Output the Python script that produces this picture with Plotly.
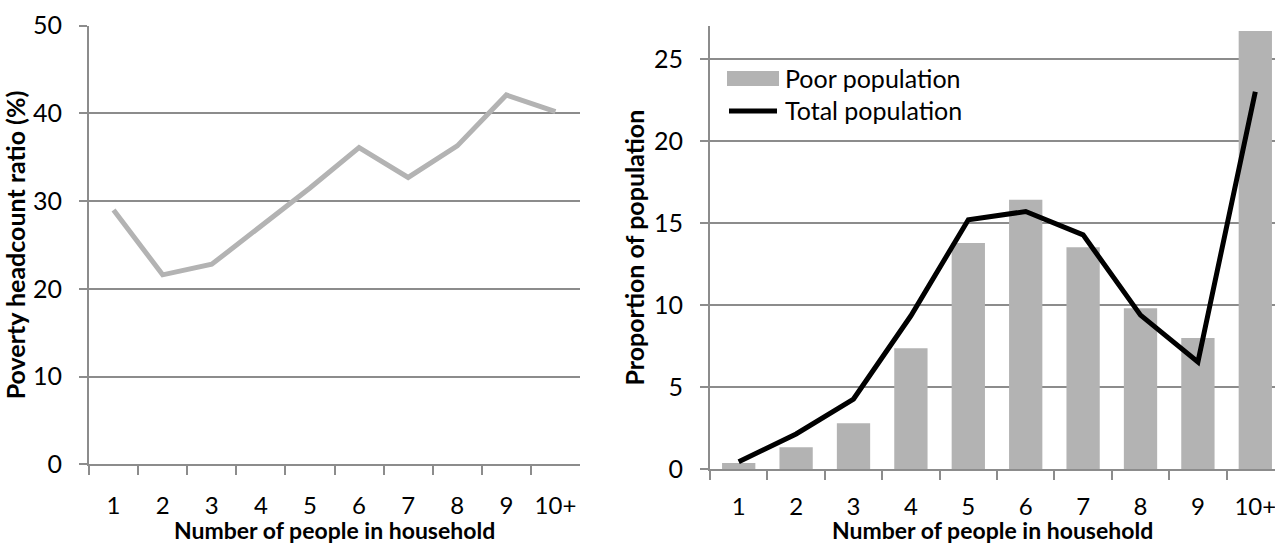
import plotly.graph_objects as go

# Household size categories
household_sizes = ["1", "2", "3", "4", "5", "6", "7", "8", "9", "10+"]

# Poverty headcount ratio (%) by household size
headcount_ratio = [29.0, 21.6, 22.8, 27.2, 31.5, 36.1, 32.7, 36.3, 42.1, 40.2]

# Share of population (%) by household size
poor_population = [0.38, 1.35, 2.8, 7.38, 13.78, 16.41, 13.52, 9.81, 8.0, 26.7]
total_population = [0.46, 2.15, 4.28, 9.35, 15.2, 15.7, 14.28, 9.39, 6.54, 23.0]

W, H = 1275, 544
FONT = "Lato"
GRID = "#8c8c8c"
LIGHT = "#b3b3b3"

def px_x(v):
    return v / W

def px_y(v):
    return 1 - v / H

fig = go.Figure()

fig.add_trace(go.Scatter(
    x=household_sizes, y=headcount_ratio, mode="lines",
    line=dict(color=LIGHT, width=5), xaxis="x", yaxis="y",
    showlegend=False,
))

fig.add_trace(go.Bar(
    x=household_sizes, y=poor_population, marker=dict(color=LIGHT, line=dict(width=0)),
    xaxis="x2", yaxis="y2", name="Poor population", showlegend=False,
))
fig.add_trace(go.Scatter(
    x=household_sizes, y=total_population, mode="lines",
    line=dict(color="black", width=5), xaxis="x2", yaxis="y2",
    name="Total population", showlegend=False,
))

tick_font = dict(family=FONT, size=25, color="black")
xtick_font = dict(family=FONT, size=24, color="black")
title_font = dict(family=FONT, size=23, color="black")
ytitle_font = dict(family=FONT, size=25, color="black")

common_x = dict(
    type="category", tickson="boundaries", ticks="outside", ticklen=9,
    tickwidth=2, tickcolor=GRID, showline=True, linecolor=GRID, linewidth=2,
    showgrid=False, tickfont=xtick_font, zeroline=False,
    automargin=False, tickangle=0,
)
common_y = dict(
    ticks="outside", ticklen=8, tickwidth=2, tickcolor=GRID,
    showline=True, linecolor=GRID, linewidth=2, showgrid=True,
    gridcolor=GRID, gridwidth=2, tickfont=tick_font, zeroline=False,
    ticklabelstandoff=12, automargin=False,
)

fig.update_layout(
    width=W, height=H, margin=dict(l=0, r=0, t=0, b=0),
    paper_bgcolor="white", plot_bgcolor="white", bargap=0.42,
    xaxis=dict(common_x, domain=[px_x(89), px_x(580)], range=[-0.5, 9.5],
               anchor="y", ticklabelstandoff=19),
    yaxis=dict(common_y, domain=[px_y(464.3), px_y(25.7)], range=[0, 50],
               dtick=10, anchor="x",
               title=dict(text="<b>Poverty headcount ratio (%)</b>",
                          font=ytitle_font, standoff=4)),
    xaxis2=dict(common_x, domain=[px_x(710), 1.0], range=[-0.5, 9.343],
                anchor="y2", ticklabelstandoff=15),
    yaxis2=dict(common_y, domain=[px_y(469.3), px_y(26)], range=[0, 27],
                dtick=5, anchor="x2",
                title=dict(text="<b>Proportion of population</b>",
                           font=ytitle_font, standoff=2)),
)

# Horizontal axis titles, centred under each panel near the bottom edge
for x_centre in (334.5, 992.5):
    fig.add_annotation(text="<b>Number of people in household</b>",
                       xref="paper", yref="paper",
                       x=px_x(x_centre), y=px_y(530), xanchor="center",
                       yanchor="middle", showarrow=False, font=title_font)

# Legend for the right panel: swatches and labels in the top-left corner
fig.add_shape(type="rect", xref="paper", yref="paper",
              x0=px_x(727), x1=px_x(779), y0=px_y(86), y1=px_y(71),
              fillcolor=LIGHT, line=dict(width=0))
fig.add_shape(type="line", xref="paper", yref="paper",
              x0=px_x(729), x1=px_x(777), y0=px_y(111), y1=px_y(111),
              line=dict(color="black", width=5))
fig.add_annotation(text="Poor population", xref="paper", yref="paper",
                   x=px_x(783), y=px_y(78), xanchor="left", yanchor="middle",
                   showarrow=False, font=tick_font)
fig.add_annotation(text="Total population", xref="paper", yref="paper",
                   x=px_x(783), y=px_y(110), xanchor="left", yanchor="middle",
                   showarrow=False, font=tick_font)

fig.write_html("out.html")
